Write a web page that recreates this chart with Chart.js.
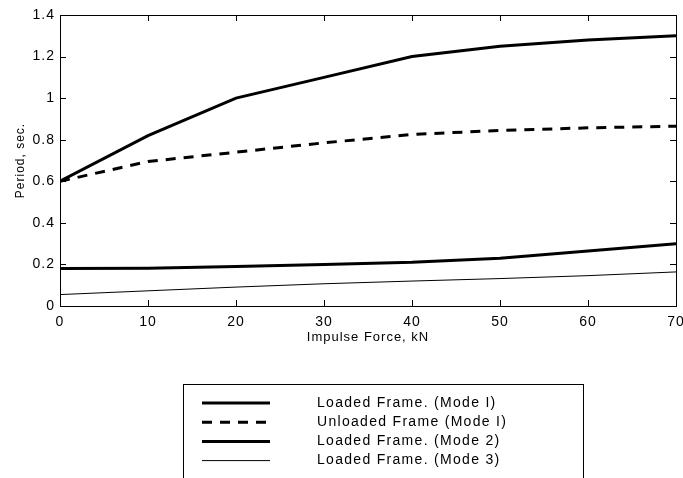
<!DOCTYPE html>
<html lang="en">
<head>
<meta charset="UTF-8">
<title>Period vs Impulse Force</title>
<script src="https://cdn.jsdelivr.net/npm/chart.js"></script>
<style>
  html, body { margin: 0; padding: 0; background: #fff; }
  #wrap { width: 683px; height: 478px; }
</style>
</head>
<body>
<div id="wrap"><canvas id="periodChart" width="683" height="478"></canvas></div>
<script>
// impulse force, kN
const forces = [0, 10, 20, 30, 40, 50, 60, 70];
// period, sec.
const loadedMode1   = [0.60, 0.82, 1.00, 1.10, 1.20, 1.25, 1.28, 1.30];
const unloadedMode1 = [0.60, 0.695, 0.74, 0.785, 0.825, 0.845, 0.857, 0.865];
const loadedMode2   = [0.18, 0.182, 0.19, 0.20, 0.21, 0.23, 0.265, 0.30];
const loadedMode3   = [0.055, 0.073, 0.091, 0.107, 0.12, 0.132, 0.146, 0.164];

const seriesNames = ['Loaded Frame. (Mode I)', 'Unloaded Frame (Mode I)', 'Loaded Frame. (Mode 2)', 'Loaded Frame. (Mode 3)'];

const xTicks = [0, 10, 20, 30, 40, 50, 60, 70];
const yTicks = [0, 0.2, 0.4, 0.6, 0.8, 1, 1.2, 1.4];
const yTickLabels = ['0', '0.2', '0.4', '0.6', '0.8', '1', '1.2', '1.4'];

const toPoints = ys => forces.map((x, i) => ({ x, y: ys[i] }));

// text spacing like the old bitmap font
const spacing = {
    id: 'spacing',
    beforeDraw(chart) { chart.ctx.letterSpacing = '1px'; }
};

// box round the plot with ticks pointing inwards (matlab style)
const boxTicks = {
    id: 'boxTicks',
    afterDraw(chart) {
        const { ctx, chartArea: a, scales } = chart;
        const len = 6;
        ctx.save();
        ctx.strokeStyle = '#000';
        ctx.lineWidth = 1;
        ctx.setLineDash([]);
        ctx.strokeRect(a.left + 0.5, a.top + 0.5, a.right - a.left, a.bottom - a.top);
        ctx.beginPath();
        xTicks.forEach(v => {
            const px = Math.round(scales.x.getPixelForValue(v)) + 0.5;
            ctx.moveTo(px, a.bottom);
            ctx.lineTo(px, a.bottom - len);
            ctx.moveTo(px, a.top);
            ctx.lineTo(px, a.top + len);
        });
        yTicks.forEach(v => {
            const py = Math.round(scales.y.getPixelForValue(v)) + 0.5;
            ctx.moveTo(a.left, py);
            ctx.lineTo(a.left + len, py);
            ctx.moveTo(a.right, py);
            ctx.lineTo(a.right - len, py);
        });
        ctx.stroke();
        ctx.restore();
    }
};

// legend box below the axes, runs off the bottom of the picture
const boxLegend = {
    id: 'boxLegend',
    afterDraw(chart) {
        const ctx = chart.ctx;
        const left = 183, top = 384, right = 583;
        ctx.save();
        ctx.strokeStyle = '#000';
        ctx.lineWidth = 1;
        ctx.strokeRect(left + 0.5, top + 0.5, right - left, 120);
        ctx.font = '14px "Liberation Sans", Arial, sans-serif';
        ctx.letterSpacing = '1.3px';
        ctx.fillStyle = '#000';
        ctx.textBaseline = 'middle';
        chart.data.datasets.forEach((ds, i) => {
            const y = 403 + i * 19.2;
            ctx.beginPath();
            ctx.lineWidth = ds.borderWidth;
            ctx.strokeStyle = ds.borderColor;
            ctx.setLineDash(ds.borderDash || []);
            ctx.moveTo(202, y);
            ctx.lineTo(270, y);
            ctx.stroke();
            ctx.fillText(ds.label, 317, y);
        });
        ctx.restore();
    }
};

Chart.defaults.font.family = '"Liberation Sans", Arial, sans-serif';
Chart.defaults.color = '#000';

new Chart(document.getElementById('periodChart'), {
    type: 'line',
    data: {
        datasets: [
            { label: seriesNames[0], data: toPoints(loadedMode1), borderColor: '#000', borderWidth: 3 },
            { label: seriesNames[1], data: toPoints(unloadedMode1), borderColor: '#000', borderWidth: 3, borderDash: [10, 8] },
            { label: seriesNames[2], data: toPoints(loadedMode2), borderColor: '#000', borderWidth: 3 },
            { label: seriesNames[3], data: toPoints(loadedMode3), borderColor: '#000', borderWidth: 1 }
        ]
    },
    options: {
        responsive: false,
        animation: false,
        devicePixelRatio: 1,
        elements: { point: { radius: 0 }, line: { tension: 0, fill: false } },
        layout: { padding: { top: 15, right: 7, bottom: 127, left: 0 } },
        plugins: { legend: { display: false }, tooltip: { enabled: false } },
        scales: {
            x: {
                type: 'linear', min: 0, max: 70,
                afterBuildTicks: s => { s.ticks = xTicks.map(v => ({ value: v })); },
                afterFit: s => { s.height = 45; s.paddingLeft = 0; s.paddingRight = 0; },
                ticks: { font: { size: 14 }, padding: 8, maxRotation: 0, autoSkip: false },
                grid: { display: false, drawTicks: false },
                border: { display: false },
                title: { display: true, text: 'Impulse Force, kN', font: { size: 13 }, padding: { top: 2, bottom: 6 } }
            },
            y: {
                min: 0, max: 1.4,
                afterBuildTicks: s => { s.ticks = yTicks.map(v => ({ value: v })); },
                afterFit: s => { s.width = 60; s.paddingTop = 0; s.paddingBottom = 0; },
                ticks: { font: { size: 14 }, padding: 5, autoSkip: false,
                         callback: (v, i) => yTickLabels[i] },
                grid: { display: false, drawTicks: false },
                border: { display: false },
                title: { display: true, text: 'Period, sec.', font: { size: 12 }, padding: { top: 13, bottom: 0 } }
            }
        }
    },
    plugins: [spacing, boxTicks, boxLegend]
});
</script>
</body>
</html>
